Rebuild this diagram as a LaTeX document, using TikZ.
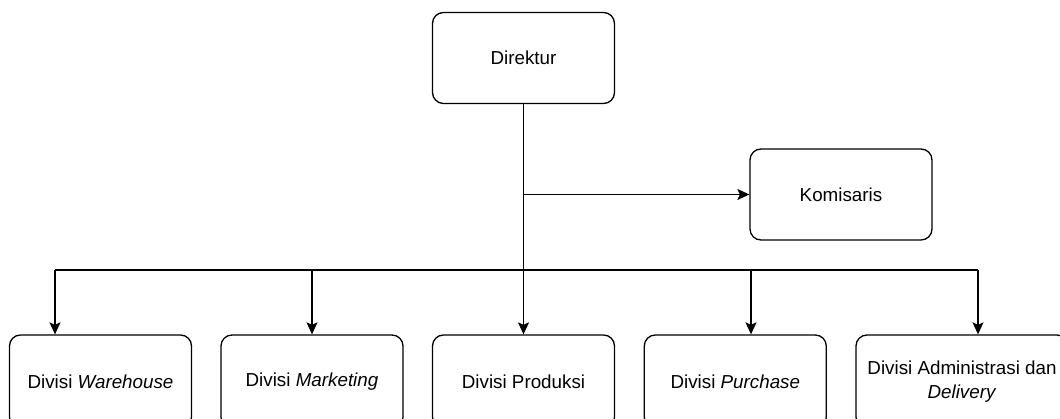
\documentclass[tikz,border=0pt]{standalone}
\usepackage{fontspec}
\setmainfont{Liberation Sans}
\usetikzlibrary{arrows.meta}
\begin{document}
\begin{tikzpicture}[x=1pt,y=-1pt,
  box/.style={draw=black, line width=1.3pt, rounded corners=11pt, fill=white,
    minimum width=182pt, minimum height=91pt, inner sep=0pt, align=center,
    font=\fontsize{18.8}{24}\selectfont},
  conn/.style={draw=black, line width=1.3pt},
  arr/.style={conn, -{Stealth[length=12pt,width=11pt,inset=2.5pt]}}]
\path[use as bounding box, clip] (0,0) rectangle (1060,419);
\fill[white] (0,0) rectangle (1060,419);
\node[box] (dir) at (523.5,58) {Direktur};
\node[box] (kom) at (841,194.5) {Komisaris};
\node[box, minimum height=93pt] (b1) at (100.5,381.5) {Divisi \textit{Warehouse}};
\node[box, minimum height=93pt] (b2) at (312,381.5) {Divisi \textit{Marketing}};
\node[box, minimum height=93pt] (b3) at (523.5,381.5) {Divisi Produksi};
\node[box, minimum height=93pt] (b4) at (735.3,381.5) {Divisi \textit{Purchase}};
\node[box, minimum height=93pt, minimum width=212pt] (b5) at (962,381.5) {Divisi Administrasi dan\\\textit{Delivery}};
\coordinate (bL) at (55,270);
\coordinate (bR) at (978,270);
\coordinate (t4) at (751,270);
\draw[arr] (dir.south) -- (b3.north);
\draw[arr] (dir.south |- kom.west) -- (kom.west);
\draw[conn] (bL) -- (bR);
\draw[arr] (bL) -- (bL |- b1.north);
\draw[arr] (b2.north |- bL) -- (b2.north);
\draw[arr] (t4) -- (t4 |- b4.north);
\draw[arr] (bR) -- (bR |- b5.north);
\end{tikzpicture}
\end{document}
